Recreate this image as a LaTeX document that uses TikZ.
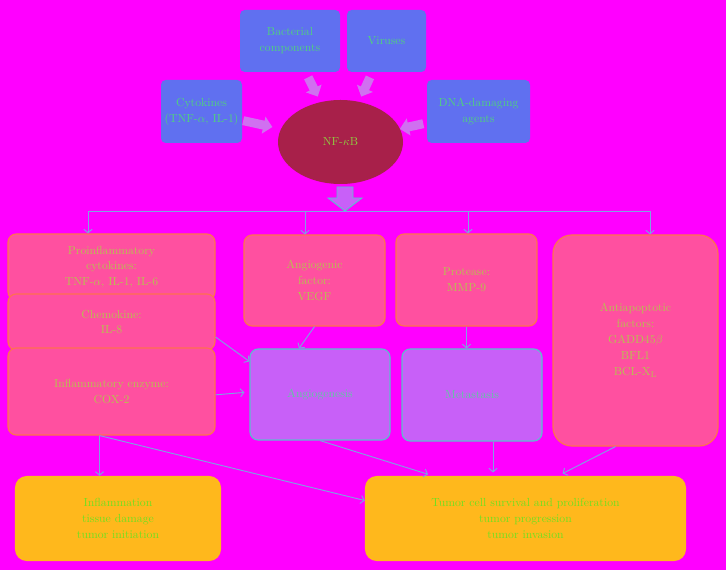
\documentclass[tikz,border=0pt]{standalone}
\usetikzlibrary{shapes.geometric,arrows.meta,calc}
\definecolor{bgmag}{HTML}{FF00FF}
\definecolor{srcblue}{HTML}{6070F0}
\definecolor{srctext}{HTML}{50D080}
\definecolor{hubred}{HTML}{A8204A}
\definecolor{hubtext}{HTML}{90C840}
\definecolor{factorpink}{HTML}{FF50A0}
\definecolor{factorline}{HTML}{FF7050}
\definecolor{factortext}{HTML}{B8C050}
\definecolor{processviolet}{HTML}{C860F8}
\definecolor{processline}{HTML}{60B8D0}
\definecolor{processtext}{HTML}{60C8A0}
\definecolor{outcomeorange}{HTML}{FFB81C}
\definecolor{outcometext}{HTML}{70E020}
\definecolor{linkblue}{HTML}{80A0E0}
\definecolor{fatviolet}{HTML}{D070F0}
\begin{document}
\begin{tikzpicture}[x=0.03cm,y=-0.03cm,
  every node/.style={font=\fontsize{10}{13.6}\selectfont, align=center, inner sep=2pt},
  source/.style={rectangle, rounded corners=4pt, fill=srcblue, text=srctext},
  hub/.style={ellipse, fill=hubred, text=hubtext},
  factor/.style={rectangle, rounded corners=7pt, fill=factorpink, draw=factorline, line width=1pt, text=factortext},
  process/.style={rectangle, rounded corners=7pt, fill=processviolet, draw=processline, line width=1pt, text=processtext},
  outcome/.style={rectangle, rounded corners=10pt, fill=outcomeorange, text=outcometext},
  link/.style={draw=linkblue, line width=0.8pt, -{Straight Barb[length=3pt,width=7pt]}},
  fat/.style={draw=fatviolet, line width=0.27cm, -{Triangle[length=0.27cm,width=0.51cm]}},
  bigarrow/.style={fill=processviolet, draw=processline, line width=0.8pt}]
\useasboundingbox (0,0) rectangle (726,570);
\fill[bgmag] (0,0) rectangle (726,570);

\node[source, minimum width=3cm, minimum height=1.86cm] (bact) at (290,41) {Bacterial\\components};
\node[source, minimum width=2.37cm, minimum height=1.86cm] (virus) at (386.5,41) {Viruses};
\node[source, minimum width=2.43cm, minimum height=1.89cm] (cyto) at (201.5,111.5) {Cytokines\\(TNF-$\alpha$, IL-1)};
\node[source, minimum width=3.09cm, minimum height=1.89cm] (dna) at (478.5,111.5) {DNA-damaging\\agents};
\node[hub, minimum width=3.75cm, minimum height=2.52cm] (nfkb) at (340.5,142) {NF-$\kappa$B};

\foreach \s/\a/\b in {bact/0.36/0.55,virus/0.36/0.55,cyto/0.3/0.51,dna/0.4/0.57}
  \draw[fat] ($(\s)!\a!(nfkb)$) -- ($(\s)!\b!(nfkb)$);

\coordinate (split) at (345,211);
\draw[bigarrow] (split) -- ++(17,-13) -- ++(-9,0) -- ++(0,-11) -- ++(-16,0) -- ++(0,11) -- ++(-9,0) -- cycle;

\node[factor, minimum width=6.21cm, minimum height=1.98cm] (proinf) at (111.5,267) {Proinflammatory\\cytokines:\\TNF-$\alpha$, IL-1, IL-6};
\node[factor, minimum width=6.21cm, minimum height=1.68cm] (chemo) at (111.5,322) {Chemokine:\\IL-8};
\node[factor, minimum width=6.21cm, minimum height=2.61cm] (enz) at (111.5,391.5) {Inflammatory enzyme:\\COX-2};
\node[factor, minimum width=4.23cm, minimum height=2.73cm] (vegf) at (314.5,280.5) {Angiogenic\\factor:\\VEGF};
\node[factor, minimum width=4.23cm, minimum height=2.76cm] (protease) at (466.5,280) {Protease:\\MMP-9};
\node[factor, rounded corners=16pt, minimum width=4.95cm, minimum height=6.33cm] (antiapop) at (635.5,340.5) {Antiapoptotic\\factors:\\GADD45$\beta$\\BFL1\\BCL-X$_\mathrm{L}$};

\node[process, minimum width=4.2cm, minimum height=2.73cm] (angio) at (320,394.5) {Angiogenesis};
\node[process, minimum width=4.2cm, minimum height=2.76cm] (meta) at (472,395) {Metastasis};

\node[outcome, minimum width=6.18cm, minimum height=2.55cm] (infl) at (118,518.5) {Inflammation\\tissue damage\\tumor initiation};
\node[outcome, minimum width=9.63cm, minimum height=2.55cm] (tumor) at (525.5,518.5) {Tumor cell survival and proliferation\\tumor progression\\tumor invasion};

\coordinate (busL) at (88,211);
\coordinate (busR) at (650,211);
\draw[link,-] (busL) -- (busR);
\foreach \x/\n in {88/proinf,305/vegf,468/protease,650/antiapop}
  \draw[link] (\x,211) -- (\x,211 |- \n.north);

\draw[link] (vegf.south) -- ([xshift=-0.63cm]angio.north);
\draw[link] ([yshift=-0.45cm]chemo.east) -- ([yshift=-0.39cm]angio.north west);
\draw[link, shorten >=0.15cm] ([yshift=-0.1cm]enz.east) -- ([yshift=0.075cm]angio.west);
\draw[link] (protease.south) -- (protease.south |- meta.north);

\coordinate (enzout) at ([xshift=-0.36cm]enz.south);
\draw[link] (enzout) -- (enzout |- infl.north);
\draw[link] (enzout) -- ([yshift=0.54cm]tumor.west);
\draw[link, shorten >=0.15cm] (angio.south) -- ([xshift=-2.78cm]tumor.north);
\draw[link, shorten >=0.1cm] ([xshift=0.63cm]meta.south) -- ([xshift=0.63cm]meta.south |- tumor.north);
\draw[link, shorten >=0.15cm] ([xshift=-0.6cm]antiapop.south) -- ([xshift=0.98cm]tumor.north);
\end{tikzpicture}
\end{document}
